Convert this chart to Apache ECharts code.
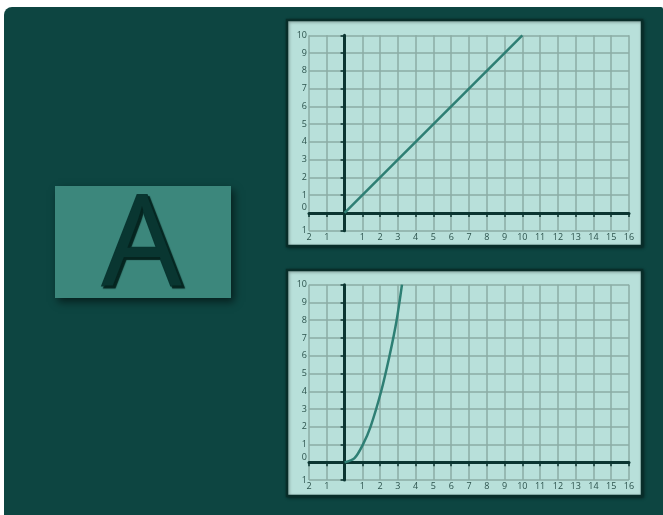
<!DOCTYPE html>
<html>
<head>
<meta charset="utf-8">
<script src="https://cdn.jsdelivr.net/npm/echarts@6/dist/echarts.min.js"></script>
<style>
    html, body { margin: 0; padding: 0; background: #ffffff; }
    #main { width: 663px; height: 515px; }
</style>
</head>
<body>
<div id="main"></div>
<script>
// 坐标范围
var xRange = [-2, 16];
var yRange = [-1, 10];
var tickStep = 1;

// 直线
var lineX = [0, 10];
var lineY = [0, 10];

// 曲线
var curveX = [0, 0.56, 1.03, 1.46, 2.06, 2.53, 2.93, 3.23];
var curveY = [0, 0.24, 1, 2, 4, 6, 8, 10];

// 字母
var letter = 'A';

(function () {
    var myChart = echarts.init(document.getElementById('main'));

    var dark = '#0b3531';
    var gridColor = '#8bada5';
    var labelColor = '#2c524c';
    var font = 'Open Sans';

    function pairs(xs, ys) {
        var out = [];
        for (var i = 0; i < xs.length; i++) {
            out.push([xs[i], ys[i]]);
        }
        return out;
    }

    function xAxisOf(idx) {
        return {
            type: 'value',
            gridIndex: idx,
            min: xRange[0],
            max: xRange[1],
            interval: tickStep,
            axisLine: { onZero: true, lineStyle: { color: dark, width: 3 } },
            axisTick: { show: true, length: 4, lineStyle: { color: dark, width: 1.5 } },
            axisLabel: {
                fontSize: 9,
                fontFamily: font,
                color: labelColor,
                margin: 2,
                formatter: function (v) { return v === 0 ? '' : String(Math.abs(v)); }
            },
            splitLine: { show: true, lineStyle: { color: gridColor, width: 1.5 } }
        };
    }

    function yAxisOf(idx) {
        return {
            type: 'value',
            gridIndex: idx,
            min: yRange[0],
            max: yRange[1],
            interval: tickStep,
            axisLine: { onZero: true, lineStyle: { color: dark, width: 3 } },
            axisTick: { show: true, length: 4, lineStyle: { color: dark, width: 1.5 } },
            axisLabel: {
                fontSize: 9,
                fontFamily: font,
                color: labelColor,
                margin: 2,
                formatter: function (v) { return v === 0 ? '{z|0}' : String(Math.abs(v)); },
                rich: { z: { fontSize: 9, fontFamily: font, color: labelColor, padding: [0, 0, 10, 0] } }
            },
            splitLine: { show: true, lineStyle: { color: gridColor, width: 1.5 } }
        };
    }

    var option = {
        animation: false,
        graphic: [
            {
                type: 'rect', z: -10,
                shape: { x: 4, y: 7, width: 659, height: 508, r: [8, 2, 0, 0] },
                style: { fill: '#0d4541' }
            },
            {
                type: 'rect', z: -9,
                shape: { x: 287, y: 20, width: 355, height: 226 },
                style: { fill: '#b8e0da', stroke: '#082d29', lineWidth: 2.5,
                    shadowBlur: 3, shadowColor: 'rgba(0,0,0,0.35)', shadowOffsetX: 1, shadowOffsetY: 1 }
            },
            {
                type: 'rect', z: -9,
                shape: { x: 287, y: 270, width: 355, height: 226 },
                style: { fill: '#b8e0da', stroke: '#082d29', lineWidth: 2.5,
                    shadowBlur: 3, shadowColor: 'rgba(0,0,0,0.35)', shadowOffsetX: 1, shadowOffsetY: 1 }
            },
            {
                type: 'rect', z: 5,
                shape: { x: 55, y: 186, width: 176, height: 112 },
                style: { fill: '#3c877c', shadowBlur: 8, shadowColor: 'rgba(0,0,0,0.55)', shadowOffsetX: 3, shadowOffsetY: 4 }
            },
            {
                type: 'text', z: 6,
                x: 142, y: 250,
                style: {
                    text: letter,
                    fontSize: 126,
                    fontFamily: font,
                    fontWeight: 'normal',
                    fill: '#093631',
                    stroke: '#093631',
                    lineWidth: 2,
                    align: 'center',
                    verticalAlign: 'middle',
                    textShadowColor: '#05241f',
                    textShadowOffsetX: 2,
                    textShadowOffsetY: 2,
                    textShadowBlur: 1
                }
            }
        ],
        grid: [
            { left: 309, top: 35.3, width: 320, height: 195.4 },
            { left: 309, top: 284.7, width: 320, height: 195.4 }
        ],
        xAxis: [xAxisOf(0), xAxisOf(1)],
        yAxis: [yAxisOf(0), yAxisOf(1)],
        series: [
            {
                type: 'line',
                xAxisIndex: 0,
                yAxisIndex: 0,
                data: pairs(lineX, lineY),
                showSymbol: false,
                lineStyle: { color: '#2e7f74', width: 2.5 },
                z: 3
            },
            {
                type: 'line',
                xAxisIndex: 1,
                yAxisIndex: 1,
                data: pairs(curveX, curveY),
                smooth: 0.3,
                showSymbol: false,
                lineStyle: { color: '#2e7f74', width: 2.5 },
                z: 3
            }
        ]
    };

    myChart.setOption(option);
    window.addEventListener('resize', function () { myChart.resize(); });
})();
</script>
</body>
</html>
